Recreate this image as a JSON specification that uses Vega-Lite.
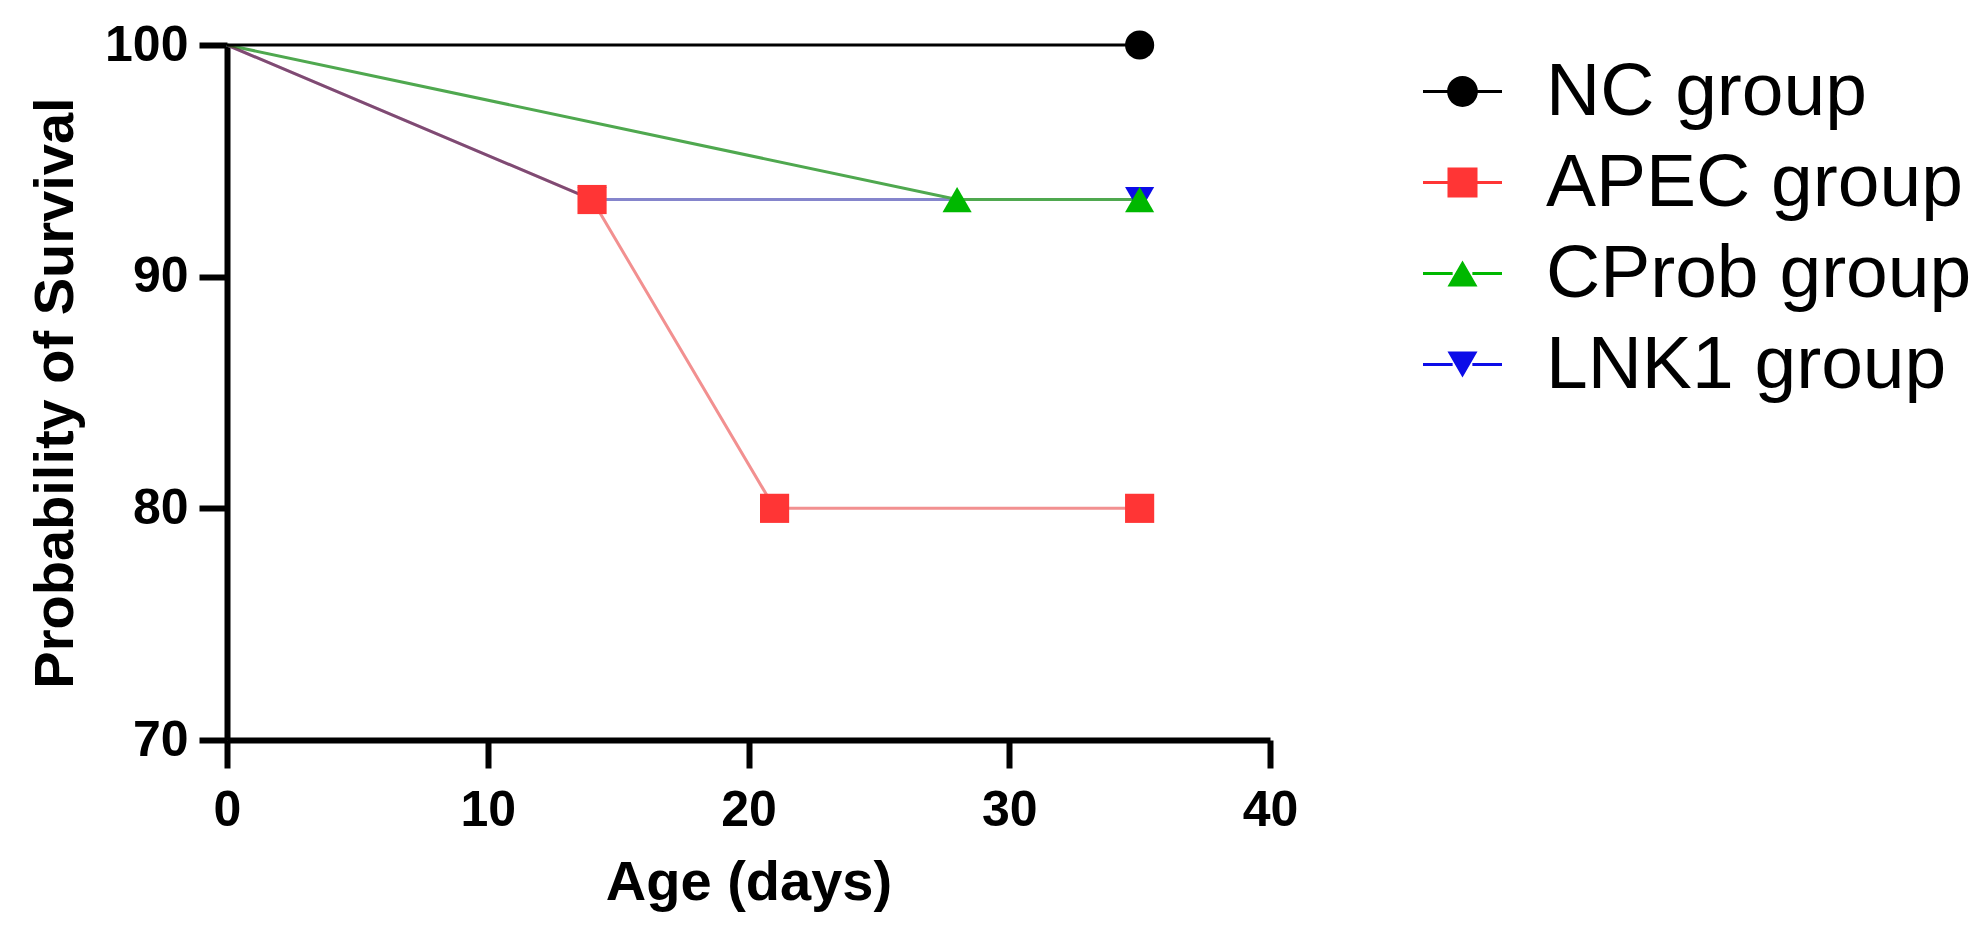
{
  "$schema": "https://vega.github.io/schema/vega-lite/v6.json",
  "description": "Survival curves by group, age in days.",
  "width": 1043,
  "height": 695,
  "autosize": {"type": "none"},
  "padding": {"left": 227, "top": 45, "right": 713, "bottom": 191},
  "data": {
    "values": [
      {"group": "LNK1 group", "day": 0, "survival": 100},
      {"group": "LNK1 group", "day": 14, "survival": 93.33},
      {"group": "LNK1 group", "day": 35, "survival": 93.33},
      {"group": "APEC group", "day": 0, "survival": 100},
      {"group": "APEC group", "day": 14, "survival": 93.33},
      {"group": "APEC group", "day": 21, "survival": 80},
      {"group": "APEC group", "day": 35, "survival": 80},
      {"group": "CProb group", "day": 0, "survival": 100},
      {"group": "CProb group", "day": 28, "survival": 93.33},
      {"group": "CProb group", "day": 35, "survival": 93.33},
      {"group": "NC group", "day": 0, "survival": 100},
      {"group": "NC group", "day": 35, "survival": 100}
    ]
  },
  "encoding": {
    "x": {
      "field": "day", "type": "quantitative",
      "scale": {"domain": [0, 40], "nice": false},
      "axis": {"title": "Age (days)", "values": [0, 10, 20, 30, 40], "labelPadding": 17, "titlePadding": 20}
    },
    "y": {
      "field": "survival", "type": "quantitative",
      "scale": {"domain": [70, 100], "nice": false, "zero": false},
      "axis": {"title": "Probability of Survival", "values": [70, 80, 90, 100], "labelPadding": 11, "titlePadding": 20}
    }
  },
  "layer": [
    {
      "transform": [{"filter": "datum.group !== 'APEC group'"}],
      "mark": {"type": "line", "strokeWidth": 3},
      "encoding": {
        "color": {
          "field": "group", "type": "nominal", "legend": null,
          "scale": {
            "domain": ["NC group", "CProb group", "LNK1 group"],
            "range": ["#000000", "#4fa84f", "#8585cc"]
          }
        }
      }
    },
    {
      "transform": [{"filter": "datum.group === 'APEC group'"}],
      "mark": {"type": "line", "strokeWidth": 3, "color": "#f29090", "blend": "multiply"},
      "encoding": {}
    },
    {
      "transform": [{"filter": "datum.day > 0"}],
      "mark": {"type": "point", "filled": true, "opacity": 1, "size": 850},
      "encoding": {
        "color": {
          "field": "group", "type": "nominal", "legend": null,
          "scale": {
            "domain": ["NC group", "APEC group", "CProb group", "LNK1 group"],
            "range": ["#000000", "#ff3535", "#00b800", "#0c0ce8"]
          }
        },
        "shape": {
          "field": "group", "type": "nominal", "legend": null,
          "scale": {
            "domain": ["NC group", "APEC group", "CProb group", "LNK1 group"],
            "range": ["circle", "square", "triangle-up", "triangle-down"]
          }
        }
      }
    },
    {
      "transform": [{"filter": "datum.day === 35"}],
      "mark": {"type": "point", "filled": true, "opacity": 0, "size": 6241},
      "encoding": {
        "color": {
          "field": "group", "type": "nominal", "title": null,
          "legend": {"encode": {"symbols": {"update": {"opacity": {"value": 1}}}}},
          "scale": {
            "domain": ["NC group", "APEC group", "CProb group", "LNK1 group"],
            "range": ["#000000", "#ff3535", "#00b800", "#0c0ce8"]
          }
        },
        "shape": {
          "field": "group", "type": "nominal", "title": null,
          "legend": {"encode": {"symbols": {"update": {"opacity": {"value": 1}}}}},
          "scale": {
            "domain": ["NC group", "APEC group", "CProb group", "LNK1 group"],
            "range": [
              "M-1,-0.04H-0.38V0.04H-1Z M0.38,-0.04H1V0.04H0.38Z M-0.39,0A0.39,0.39,0,1,1,0.39,0A0.39,0.39,0,1,1,-0.39,0Z",
              "M-1,-0.04H-0.38V0.04H-1Z M0.38,-0.04H1V0.04H0.38Z M-0.38,-0.38H0.38V0.38H-0.38Z",
              "M-1,-0.04H-0.25V0.04H-1Z M0.25,-0.04H1V0.04H0.25Z M0,-0.33L0.38,0.33H-0.38Z",
              "M-1,-0.04H-0.25V0.04H-1Z M0.25,-0.04H1V0.04H0.25Z M0,0.33L-0.38,-0.33H0.38Z"
            ]
          }
        }
      }
    }
  ],
  "resolve": {"scale": {"color": "independent", "shape": "independent"}},
  "config": {
    "view": {"stroke": null},
    "axis": {
      "grid": false,
      "domainColor": "#000000",
      "domainWidth": 6,
      "tickColor": "#000000",
      "tickWidth": 6,
      "tickSize": 28,
      "labelFont": "Liberation Sans",
      "labelFontSize": 50,
      "labelFontWeight": "bold",
      "labelColor": "#000000",
      "labelFlush": false,
      "labelOverlap": false,
      "titleFont": "Liberation Sans",
      "titleFontSize": 56,
      "titleFontWeight": "bold",
      "titleColor": "#000000"
    },
    "legend": {
      "orient": "none",
      "legendX": 1196,
      "legendY": 7,
      "padding": 0,
      "symbolSize": 6241,
      "symbolStrokeWidth": 0,
      "labelFont": "Liberation Sans",
      "labelFontSize": 75,
      "labelColor": "#000000",
      "labelOffset": 44,
      "labelLimit": 0,
      "rowPadding": 13
    }
  }
}
